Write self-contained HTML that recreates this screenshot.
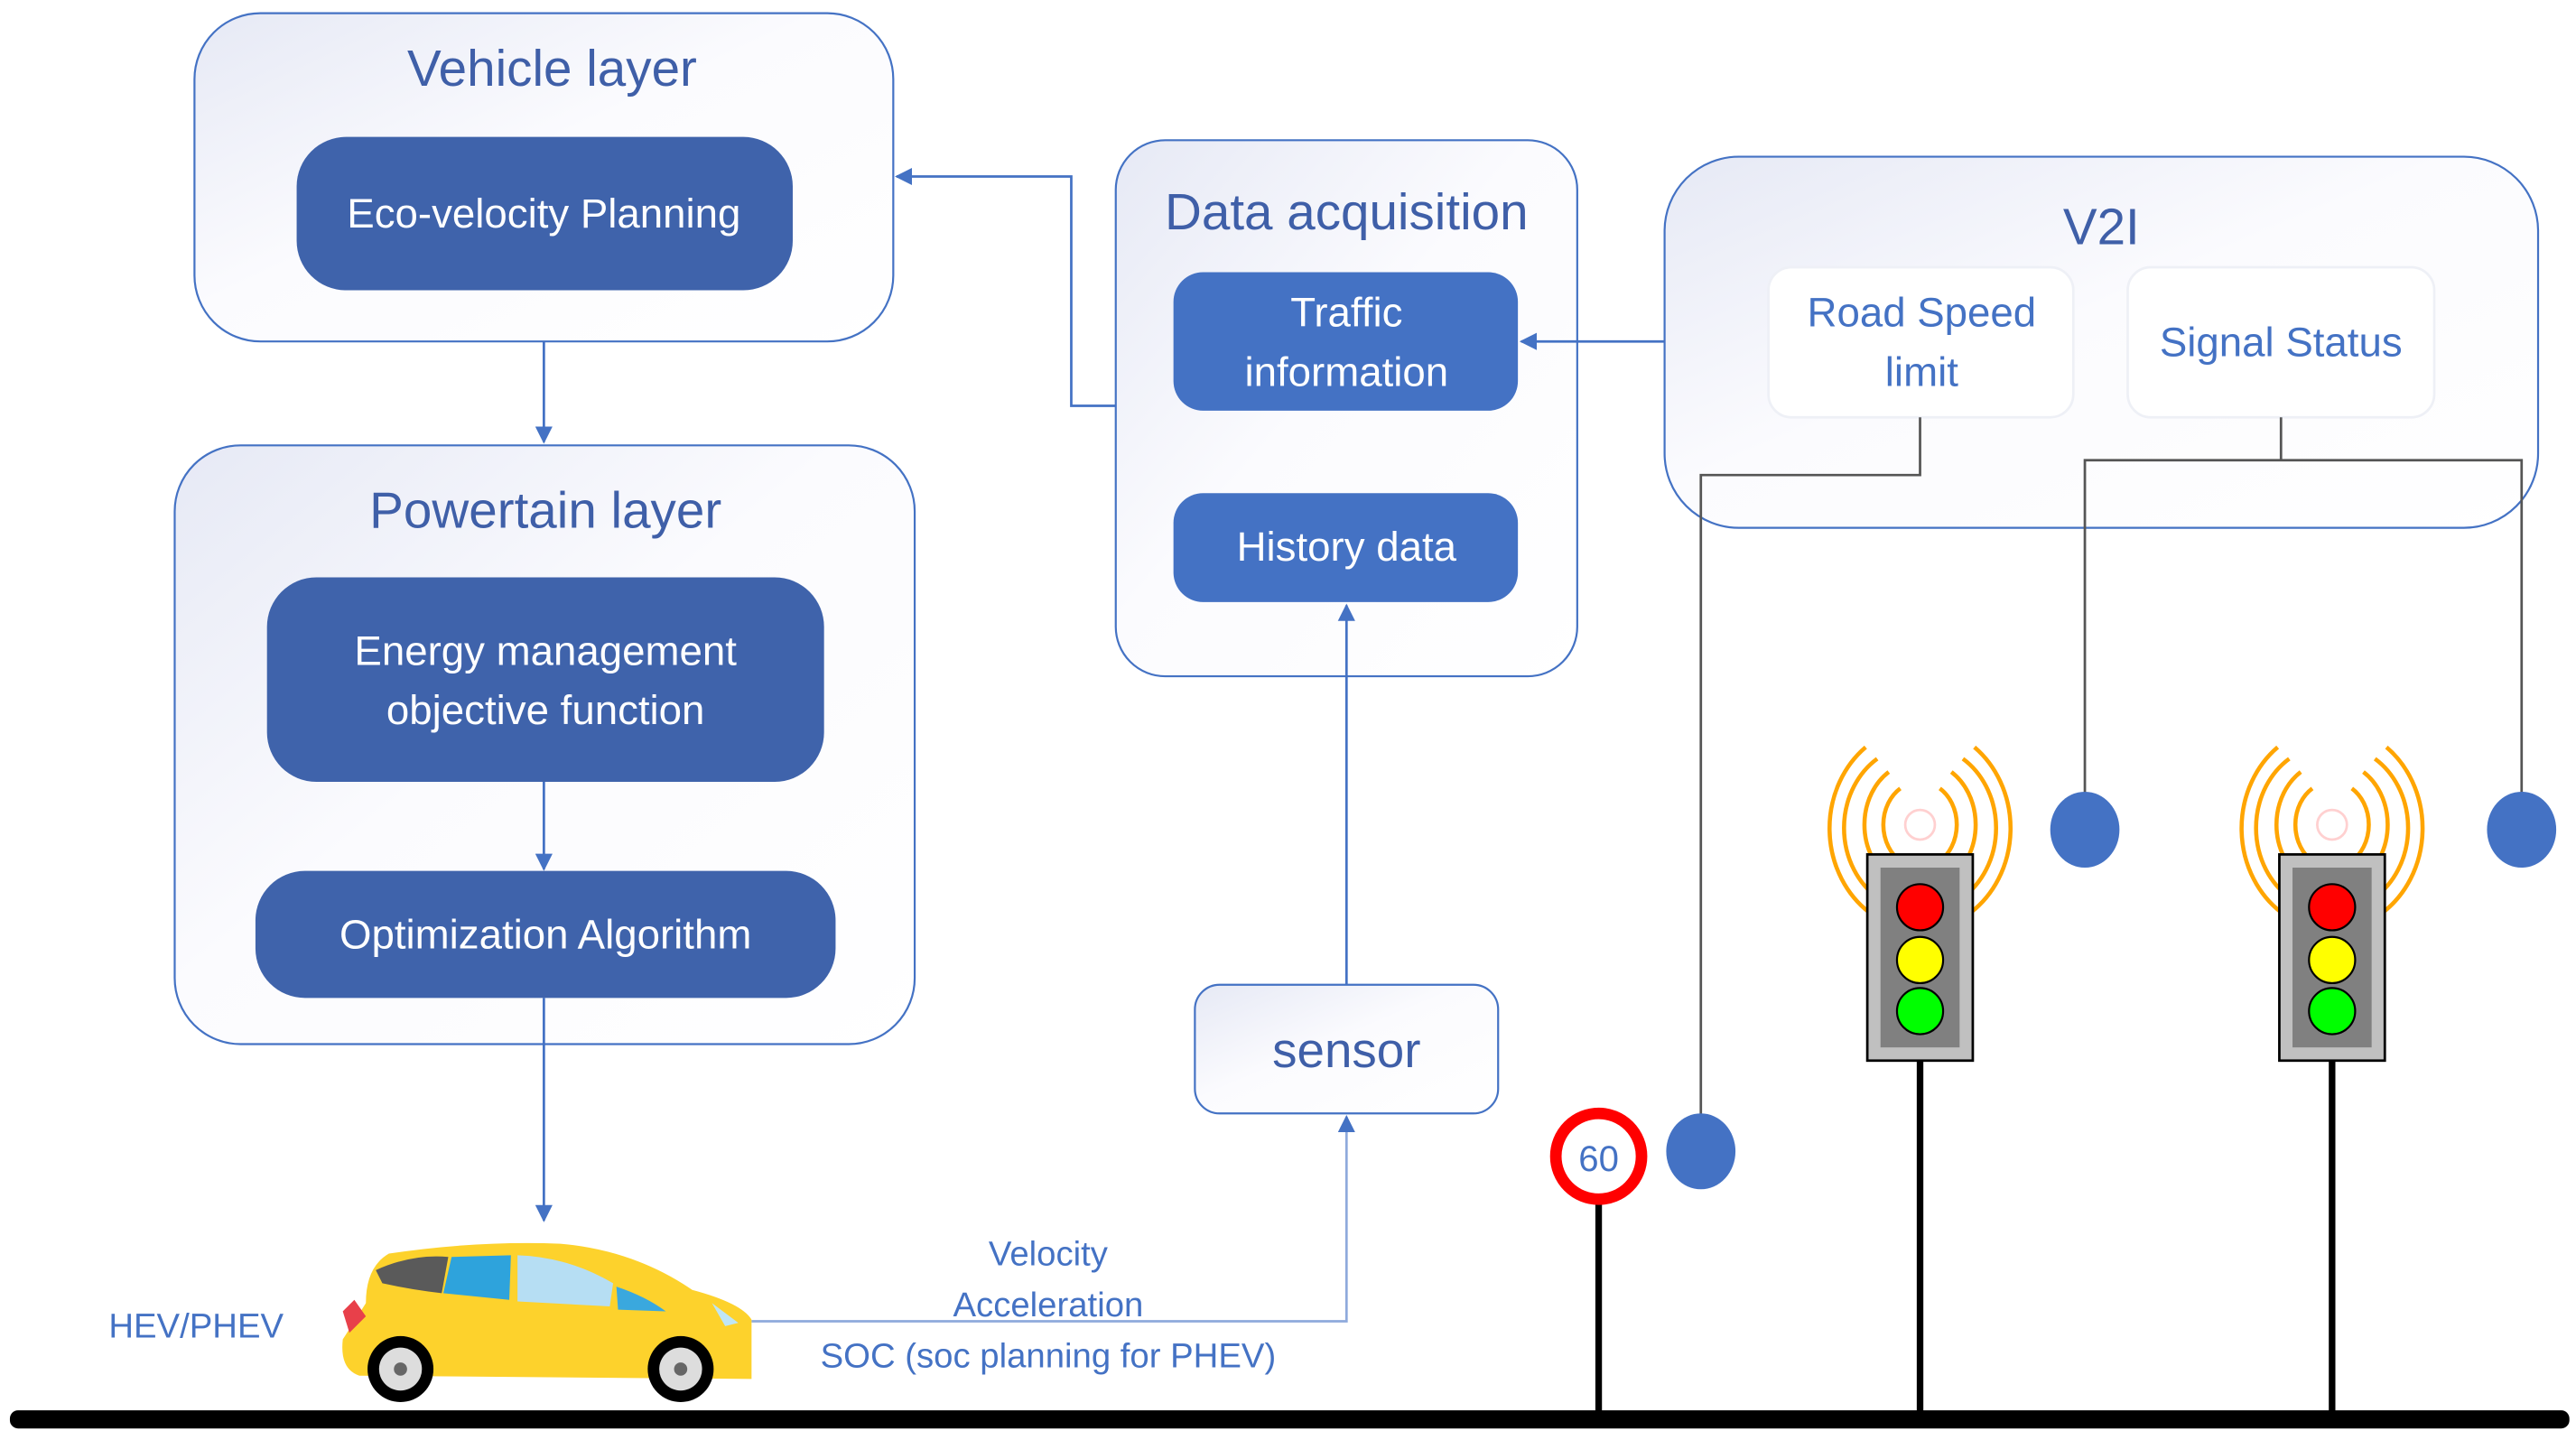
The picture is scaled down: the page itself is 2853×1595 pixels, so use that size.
<!DOCTYPE html>
<html><head><meta charset="utf-8"><style>
html,body{margin:0;padding:0;background:#fff;}
svg{display:block;}
text{font-family:"Liberation Sans",sans-serif;}
</style></head><body>
<svg width="2853" height="1595" viewBox="0 0 1563 873" preserveAspectRatio="none" xmlns="http://www.w3.org/2000/svg">
<defs>
<linearGradient id="bg" x1="0" y1="0" x2="1" y2="1">
<stop offset="0" stop-color="#e6e9f5"/><stop offset="0.45" stop-color="#fbfbfe"/><stop offset="1" stop-color="#ffffff"/>
</linearGradient>
<marker id="ar" viewBox="0 0 10 10" refX="9" refY="5" markerWidth="7" markerHeight="7" orient="auto">
<path d="M0,0 L10,5 L0,10 z" fill="#4472c4"/></marker>
</defs>
<rect x="118" y="8" width="424" height="199" rx="40" fill="url(#bg)" stroke="#4472c4" stroke-width="1.2"/>
<text x="335" y="52" font-size="31" fill="#3f5fa8" text-anchor="middle">Vehicle layer</text>
<rect x="180" y="83" width="301" height="93" rx="30" fill="#3f63ab"/>
<text x="330" y="138" font-size="25" fill="#fff" text-anchor="middle">Eco-velocity Planning</text>

<rect x="106" y="270" width="449" height="363" rx="40" fill="url(#bg)" stroke="#4472c4" stroke-width="1.2"/>
<text x="331" y="320" font-size="31" fill="#3f5fa8" text-anchor="middle">Powertain layer</text>
<rect x="162" y="350" width="338" height="124" rx="30" fill="#3f63ab"/>
<text x="331" y="403" font-size="25" fill="#fff" text-anchor="middle">Energy management</text>
<text x="331" y="439" font-size="25" fill="#fff" text-anchor="middle">objective function</text>
<rect x="155" y="528" width="352" height="77" rx="30" fill="#3f63ab"/>
<text x="331" y="575" font-size="25" fill="#fff" text-anchor="middle">Optimization Algorithm</text>

<rect x="677" y="85" width="280" height="325" rx="30" fill="url(#bg)" stroke="#4472c4" stroke-width="1.2"/>
<text x="817" y="139" font-size="31" fill="#3f5fa8" text-anchor="middle">Data acquisition</text>
<rect x="712" y="165" width="209" height="84" rx="18" fill="#4472c4"/>
<text x="817" y="198" font-size="25" fill="#fff" text-anchor="middle">Traffic</text>
<text x="817" y="234" font-size="25" fill="#fff" text-anchor="middle">information</text>
<rect x="712" y="299" width="209" height="66" rx="18" fill="#4472c4"/>
<text x="817" y="340" font-size="25" fill="#fff" text-anchor="middle">History data</text>

<rect x="1010" y="95" width="530" height="225" rx="45" fill="url(#bg)" stroke="#4472c4" stroke-width="1.2"/>
<text x="1275" y="148" font-size="31" fill="#3f5fa8" text-anchor="middle">V2I</text>
<rect x="1073" y="162" width="185" height="91" rx="14" fill="#fff" stroke="#eef0f6" stroke-width="1.5"/>
<text x="1166" y="198" font-size="25" fill="#4472c4" text-anchor="middle">Road Speed</text>
<text x="1166" y="234" font-size="25" fill="#4472c4" text-anchor="middle">limit</text>
<rect x="1291" y="162" width="186" height="91" rx="14" fill="#fff" stroke="#eef0f6" stroke-width="1.5"/>
<text x="1384" y="216" font-size="25" fill="#4472c4" text-anchor="middle">Signal Status</text>

<rect x="725" y="597" width="184" height="78" rx="15" fill="url(#bg)" stroke="#4472c4" stroke-width="1.2"/>
<text x="817" y="647" font-size="30" fill="#3f5fa8" text-anchor="middle">sensor</text>

<g stroke="#4472c4" stroke-width="1.5" fill="none">
<line x1="330" y1="207" x2="330" y2="268" marker-end="url(#ar)"/>
<line x1="330" y1="474" x2="330" y2="527" marker-end="url(#ar)"/>
<line x1="330" y1="605" x2="330" y2="740" marker-end="url(#ar)"/>
<polyline points="677,246 650,246 650,107 544,107" marker-end="url(#ar)"/>
<line x1="1010" y1="207" x2="923" y2="207" marker-end="url(#ar)"/>
<line x1="817" y1="597" x2="817" y2="367" marker-end="url(#ar)"/>
<polyline points="456,801 817,801 817,677" marker-end="url(#ar)" stroke="#8faadc"/>
</g>
<text x="636" y="767" font-size="21" fill="#4472c4" text-anchor="middle">Velocity</text>
<text x="636" y="798" font-size="21" fill="#4472c4" text-anchor="middle">Acceleration</text>
<text x="636" y="829" font-size="21" fill="#4472c4" text-anchor="middle">SOC (soc planning for PHEV)</text>
<text x="119" y="811" font-size="21" fill="#4472c4" text-anchor="middle">HEV/PHEV</text>

<g stroke="#555" stroke-width="1.5" fill="none">
<polyline points="1032,676 1032,288 1165,288 1165,253"/>
<line x1="1384" y1="253" x2="1384" y2="279"/>
<polyline points="1265,482 1265,279 1530,279 1530,482"/>
</g>
<ellipse cx="1032" cy="698" rx="21" ry="23" fill="#4472c4"/>
<ellipse cx="1265" cy="503" rx="21" ry="23" fill="#4472c4"/>
<ellipse cx="1530" cy="503" rx="21" ry="23" fill="#4472c4"/>

<rect x="6" y="855" width="1553" height="11" rx="5" fill="#000"/>

<line x1="970" y1="728" x2="970" y2="858" stroke="#000" stroke-width="4"/>
<circle cx="970" cy="701" r="26" fill="#fff" stroke="#f00" stroke-width="7"/>
<text x="970" y="710" font-size="22" fill="#4472c4" text-anchor="middle">60</text>

<g id="tl">
<line x1="1165" y1="643" x2="1165" y2="858" stroke="#000" stroke-width="4"/>
<g fill="none" stroke="#ffa500" stroke-width="2.5">
<path d="M1153,478 A22,26 0 0 0 1153,522"/><path d="M1177,478 A22,26 0 0 1 1177,522"/>
<path d="M1146,468 A32,38 0 0 0 1146,532"/><path d="M1184,468 A32,38 0 0 1 1184,532"/>
<path d="M1139,460 A44,50 0 0 0 1139,544"/><path d="M1191,460 A44,50 0 0 1 1191,544"/>
<path d="M1132,453 A56,62 0 0 0 1134,553"/><path d="M1198,453 A56,62 0 0 1 1196,553"/>
</g>
<circle cx="1165" cy="500" r="9" fill="none" stroke="#ffd0d0" stroke-width="1.5"/>
<rect x="1133" y="518" width="64" height="125" fill="#c0c0c0" stroke="#000" stroke-width="1.5"/>
<rect x="1141" y="526" width="48" height="109" fill="#808080"/>
<circle cx="1165" cy="550" r="14" fill="#f00" stroke="#000" stroke-width="1.2"/>
<circle cx="1165" cy="582" r="14" fill="#ff0" stroke="#000" stroke-width="1.2"/>
<circle cx="1165" cy="613" r="14" fill="#0f0" stroke="#000" stroke-width="1.2"/>
</g>
<use href="#tl" transform="translate(250,0)"/>

<g>
<path d="M222,790 Q222,768 236,760 Q290,752 340,754 Q385,758 420,782 Q450,790 456,800 L456,836 L218,834 Q206,830 208,812 Z" fill="#fdd22c"/>
<path d="M228,770 Q250,760 272,762 L268,784 Q250,782 232,778 Z" fill="#5a5a5a"/>
<path d="M274,762 L310,761 L309,788 L269,784 Z" fill="#2ea3dc"/>
<path d="M314,761 Q345,762 372,778 L370,792 L314,789 Z" fill="#b6def3"/>
<path d="M374,780 Q392,786 404,795 L375,794 Z" fill="#3aa8de"/>
<path d="M208,795 L215,788 L222,798 L212,808 Z" fill="#e8404a"/>
<path d="M432,790 L448,802 L440,804 Z" fill="#bfe6f5"/>
<circle cx="243" cy="830" r="20" fill="#000"/><circle cx="243" cy="830" r="13" fill="#ddd"/><circle cx="243" cy="830" r="4" fill="#666"/>
<circle cx="413" cy="830" r="20" fill="#000"/><circle cx="413" cy="830" r="13" fill="#ddd"/><circle cx="413" cy="830" r="4" fill="#666"/>
</g>
</svg>
</body></html>
